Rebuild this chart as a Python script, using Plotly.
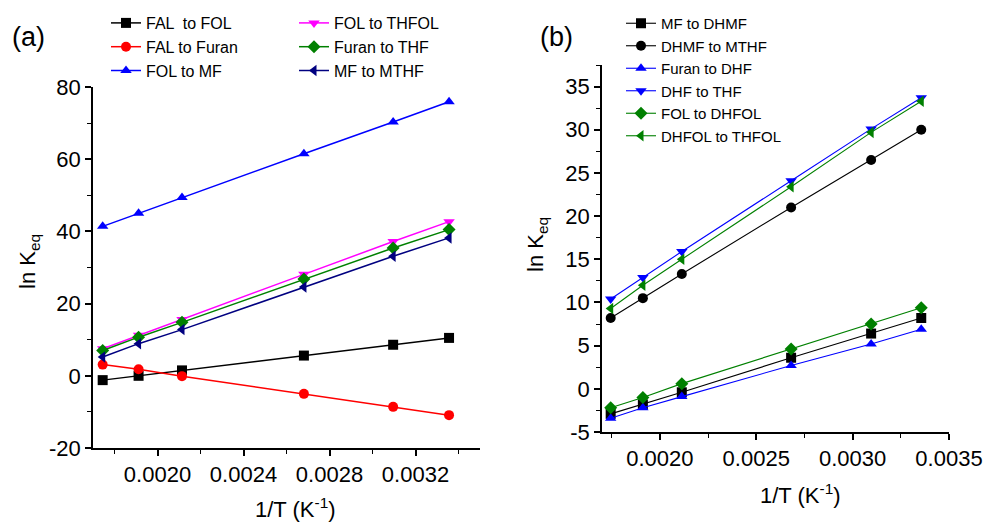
import plotly.graph_objects as go

# x values (1/T, K^-1) shared by every series
inv_T = [0.001745, 0.001912, 0.002114, 0.002681, 0.003096, 0.003356]

# panel (a) ln Keq
fal_fol = [-1.2, 0.0, 1.5, 5.6, 8.6, 10.5]
fal_furan = [3.1, 1.8, -0.1, -5.0, -8.6, -10.9]
fol_mf = [41.4, 45.0, 49.4, 61.5, 70.3, 75.9]
fol_thfol = [7.5, 11.2, 15.6, 28.1, 37.2, 42.7]
furan_thf = [7.0, 10.7, 14.8, 26.8, 35.4, 40.5]
mf_mthf = [5.2, 8.9, 12.8, 24.6, 33.1, 38.2]

# panel (b) ln Keq
mf_dhmf = [-2.9, -1.8, -0.4, 3.6, 6.4, 8.2]
dhmf_mthf = [8.2, 10.5, 13.3, 21.0, 26.5, 30.0]
furan_dhf = [-3.4, -2.2, -0.9, 2.7, 5.2, 6.9]
dhf_thf = [10.4, 12.9, 15.9, 24.1, 30.1, 33.7]
fol_dhfol = [-2.2, -1.0, 0.6, 4.6, 7.5, 9.4]
dhfol_thfol = [9.3, 12.0, 15.0, 23.4, 29.7, 33.3]

# tick labels (plain hyphen minus, as in the original)
ya_vals = [-20, 0, 20, 40, 60, 80]
ya_text = ['-20', '0', '20', '40', '60', '80']
yb_vals = [-5, 0, 5, 10, 15, 20, 25, 30, 35]
yb_text = ['-5', '0', '5', '10', '15', '20', '25', '30', '35']

W, H = 987, 522
FONT = 'Liberation Sans, Arial, sans-serif'


# convert screen pixel positions into paper fractions
def px_x(p):
    return p / W


def px_y(p):
    return 1 - p / H


fig = go.Figure()

series_a = [
    ('FAL  to FOL', fal_fol, 'black', 'square', 'legend'),
    ('FAL to Furan', fal_furan, '#FF0000', 'circle', 'legend'),
    ('FOL to MF', fol_mf, '#0000FF', 'triangle-up', 'legend'),
    ('FOL to THFOL', fol_thfol, '#FF00FF', 'triangle-down', 'legend2'),
    ('Furan to THF', furan_thf, '#008000', 'diamond', 'legend2'),
    ('MF to MTHF', mf_mthf, '#000080', 'triangle-left', 'legend2'),
]
for name, vals, col, sym, leg in series_a:
    fig.add_trace(go.Scatter(
        x=inv_T, y=vals, name=name, mode='lines+markers',
        line=dict(color=col, width=1.5),
        marker=dict(color=col, symbol=sym, size=10),
        xaxis='x', yaxis='y', legend=leg,
    ))

series_b = [
    ('MF to DHMF', mf_dhmf, 'black', 'square'),
    ('DHMF to MTHF', dhmf_mthf, 'black', 'circle'),
    ('Furan to DHF', furan_dhf, '#0000FF', 'triangle-up'),
    ('DHF to THF', dhf_thf, '#0000FF', 'triangle-down'),
    ('FOL to DHFOL', fol_dhfol, '#008000', 'diamond'),
    ('DHFOL to THFOL', dhfol_thfol, '#008000', 'triangle-left'),
]
for name, vals, col, sym in series_b:
    fig.add_trace(go.Scatter(
        x=inv_T, y=vals, name=name, mode='lines+markers',
        line=dict(color=col, width=1.1),
        marker=dict(color=col, symbol=sym, size=10),
        xaxis='x2', yaxis='y2', legend='legend3',
    ))

axis_common = dict(
    showline=True, linecolor='black', linewidth=1.5,
    ticks='outside', ticklen=6, tickwidth=1.5, tickcolor='black',
    showgrid=False, zeroline=False, mirror=False, automargin=False,
    tickfont=dict(size=22, color='black', family=FONT),
)

leg_common = dict(
    xanchor='left', yanchor='top', bgcolor='rgba(0,0,0,0)',
    tracegroupgap=0, itemwidth=30,
)

fig.update_layout(
    template='none',
    width=W, height=H,
    margin=dict(l=0, r=0, t=0, b=0, pad=0),
    paper_bgcolor='white', plot_bgcolor='white',
    font=dict(family=FONT, color='black'),
    showlegend=True,
    xaxis=dict(
        domain=[px_x(93), px_x(480)], range=[0.0017, 0.0035],
        tick0=0.0020, dtick=0.0004, tickformat='.4f',
        minor=dict(ticks='outside', ticklen=4, dtick=0.0002, tick0=0.0018,
                   tickcolor='black', tickwidth=1.2),
        anchor='y', **axis_common,
    ),
    yaxis=dict(
        domain=[px_y(448), px_y(87)], range=[-20, 80],
        tickvals=ya_vals, ticktext=ya_text,
        minor=dict(ticks='outside', ticklen=4, dtick=10, tick0=-10,
                   tickcolor='black', tickwidth=1.2),
        anchor='x', **axis_common,
    ),
    xaxis2=dict(
        domain=[px_x(602), px_x(949)], range=[0.0017, 0.0035],
        tick0=0.0020, dtick=0.0005, tickformat='.4f',
        minor=dict(ticks='outside', ticklen=4, dtick=0.00025, tick0=0.00175,
                   tickcolor='black', tickwidth=1.2),
        anchor='y2', **axis_common,
    ),
    yaxis2=dict(
        domain=[px_y(432), px_y(65)], range=[-5, 37.5],
        tickvals=yb_vals, ticktext=yb_text,
        minor=dict(ticks='outside', ticklen=4, dtick=2.5, tick0=-2.5,
                   tickcolor='black', tickwidth=1.2),
        anchor='x2', **axis_common,
    ),
    legend=dict(x=px_x(106), y=px_y(6), font=dict(size=16, family=FONT),
                **leg_common),
    legend2=dict(x=px_x(294), y=px_y(6), font=dict(size=16, family=FONT),
                 **leg_common),
    legend3=dict(x=px_x(621), y=px_y(7), font=dict(size=15, family=FONT),
                 **leg_common),
)

annotations = [
    dict(text='(a)', x=px_x(10), y=px_y(37), xanchor='left', yanchor='middle',
         font=dict(size=27)),
    dict(text='(b)', x=px_x(538), y=px_y(37), xanchor='left', yanchor='middle',
         font=dict(size=27)),
    dict(text='1/T (K<sup>-1</sup>)', x=px_x(295), y=px_y(508),
         xanchor='center', yanchor='middle', font=dict(size=22)),
    dict(text='1/T (K<sup>-1</sup>)', x=px_x(800), y=px_y(494),
         xanchor='center', yanchor='middle', font=dict(size=22)),
    dict(text='ln K<sub>eq</sub>', x=px_x(29), y=px_y(262), textangle=-90,
         xanchor='center', yanchor='middle', font=dict(size=22)),
    dict(text='ln K<sub>eq</sub>', x=px_x(537), y=px_y(245), textangle=-90,
         xanchor='center', yanchor='middle', font=dict(size=22)),
]
for a in annotations:
    a.update(xref='paper', yref='paper', showarrow=False)
fig.update_layout(annotations=annotations)

# drop the default page margin so the figure fills the window exactly
fig.write_html(
    "out.html",
    config={'displayModeBar': False},
    post_script="document.body.style.margin='0';",
)
